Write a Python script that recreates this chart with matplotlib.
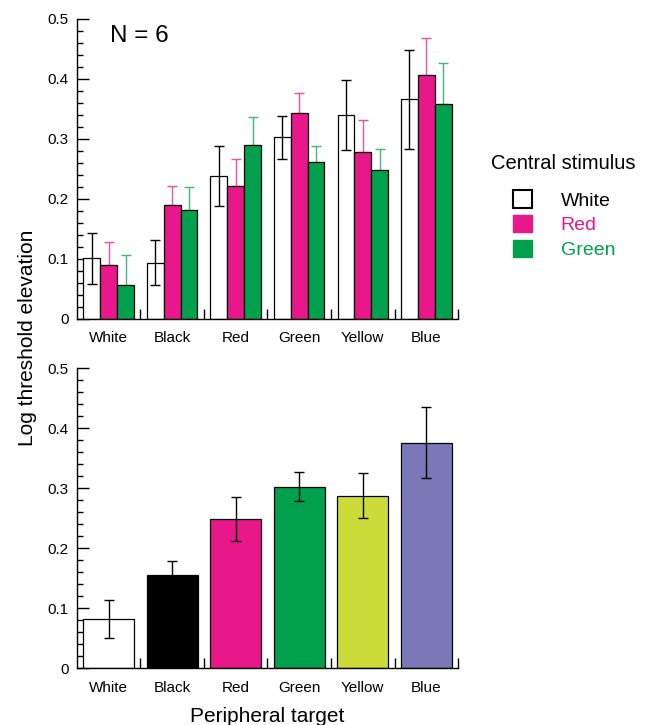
import matplotlib.pyplot as plt
import matplotlib.patches as mpatches
import numpy as np

plt.rcParams['font.family'] = ['Liberation Sans', 'DejaVu Sans']

targets = ['White', 'Black', 'Red', 'Green', 'Yellow', 'Blue']
central = ['White', 'Red', 'Green']

# top panel: threshold elevation by central stimulus
top_white = [0.101, 0.094, 0.239, 0.303, 0.340, 0.366]
top_white_err = [0.042, 0.037, 0.050, 0.036, 0.058, 0.082]
top_red = [0.090, 0.190, 0.221, 0.344, 0.279, 0.406]
top_red_err = [0.038, 0.032, 0.046, 0.033, 0.052, 0.063]
top_green = [0.057, 0.181, 0.290, 0.262, 0.249, 0.358]
top_green_err = [0.049, 0.039, 0.047, 0.027, 0.034, 0.068]

# bottom panel: averaged over central stimuli
bot_vals = [0.082, 0.155, 0.249, 0.303, 0.288, 0.376]
bot_err = [0.032, 0.024, 0.037, 0.024, 0.037, 0.059]

pink = '#E8188A'
green = '#00A04C'
pink_light = '#EE50A6'
green_light = '#40B87C'
bot_colors = ['white', 'black', pink, green, '#CCDB3A', '#7B78B8']

fig = plt.figure(figsize=(6.52, 7.25), dpi=100)
ax1 = fig.add_axes([0.118, 0.56, 0.5845, 0.4138])
ax2 = fig.add_axes([0.118, 0.0782, 0.5845, 0.4138])

x = np.arange(len(targets))
w = 0.265

ax1.bar(x - w, top_white, w, color='white', edgecolor='black', linewidth=0.9, zorder=2)
ax1.errorbar(x - w, top_white, yerr=top_white_err, fmt='none', ecolor='black',
             elinewidth=1, capsize=3.5, capthick=1, zorder=3)
ax1.errorbar(x, top_red, yerr=[np.zeros(6), top_red_err], fmt='none', ecolor=pink_light,
             elinewidth=1, capsize=3.5, capthick=1, zorder=1)
ax1.bar(x, top_red, w, color=pink, edgecolor='black', linewidth=0.9, zorder=2)
ax1.errorbar(x + w, top_green, yerr=[np.zeros(6), top_green_err], fmt='none', ecolor=green_light,
             elinewidth=1, capsize=3.5, capthick=1, zorder=1)
ax1.bar(x + w, top_green, w, color=green, edgecolor='black', linewidth=0.9, zorder=2)
ax1.text(0.087, 0.943, 'N = 6', transform=ax1.transAxes, fontsize=17.5, va='center', ha='left')

ax2.bar(x, bot_vals, 0.8, color=bot_colors, edgecolor='black', linewidth=0.9, zorder=2)
ax2.errorbar(x, bot_vals, yerr=bot_err, fmt='none', ecolor='black',
             elinewidth=1, capsize=3.5, capthick=1, zorder=3)

for ax in (ax1, ax2):
    ax.set_xlim(-0.5, 5.5)
    ax.set_ylim(0, 0.5)
    ax.spines['top'].set_visible(False)
    ax.spines['right'].set_visible(False)
    ax.spines['left'].set_linewidth(1.0)
    ax.spines['bottom'].set_linewidth(1.0)
    ax.set_yticks([0, 0.1, 0.2, 0.3, 0.4, 0.5])
    ax.set_yticklabels(['0', '0.1', '0.2', '0.3', '0.4', '0.5'])
    ax.set_yticks(np.arange(0, 0.5, 0.02), minor=True)
    ax.tick_params(axis='y', which='major', direction='in', length=8.5, width=1, labelsize=11, pad=6)
    ax.tick_params(axis='y', which='minor', direction='in', length=4.3, width=1)
    ax.set_xticks(x)
    ax.set_xticklabels(targets)
    ax.set_xticks(np.arange(0.5, 6, 1), minor=True)
    ax.tick_params(axis='x', which='major', length=0, labelsize=11, pad=9)
    ax.tick_params(axis='x', which='minor', direction='in', length=7, width=1)

ax2.set_xlabel('Peripheral target', fontsize=15, labelpad=9)
fig.text(0.042, 0.534, 'Log threshold elevation', rotation=90, fontsize=15,
         ha='center', va='center')

# legend
fig.text(0.8635, 0.775, 'Central stimulus', fontsize=14.5, ha='center', va='center')
handles = [mpatches.Patch(facecolor='white', edgecolor='black', linewidth=1.5),
           mpatches.Patch(facecolor=pink, edgecolor=pink),
           mpatches.Patch(facecolor=green, edgecolor=green)]
fig.legend(handles, central, loc='center left', bbox_to_anchor=(0.760, 0.690),
           frameon=False, fontsize=14, labelcolor=['black', pink, green],
           handlelength=1.0, handleheight=1.0, handletextpad=1.45,
           labelspacing=0.28)

fig.savefig('out.png', dpi=100)
